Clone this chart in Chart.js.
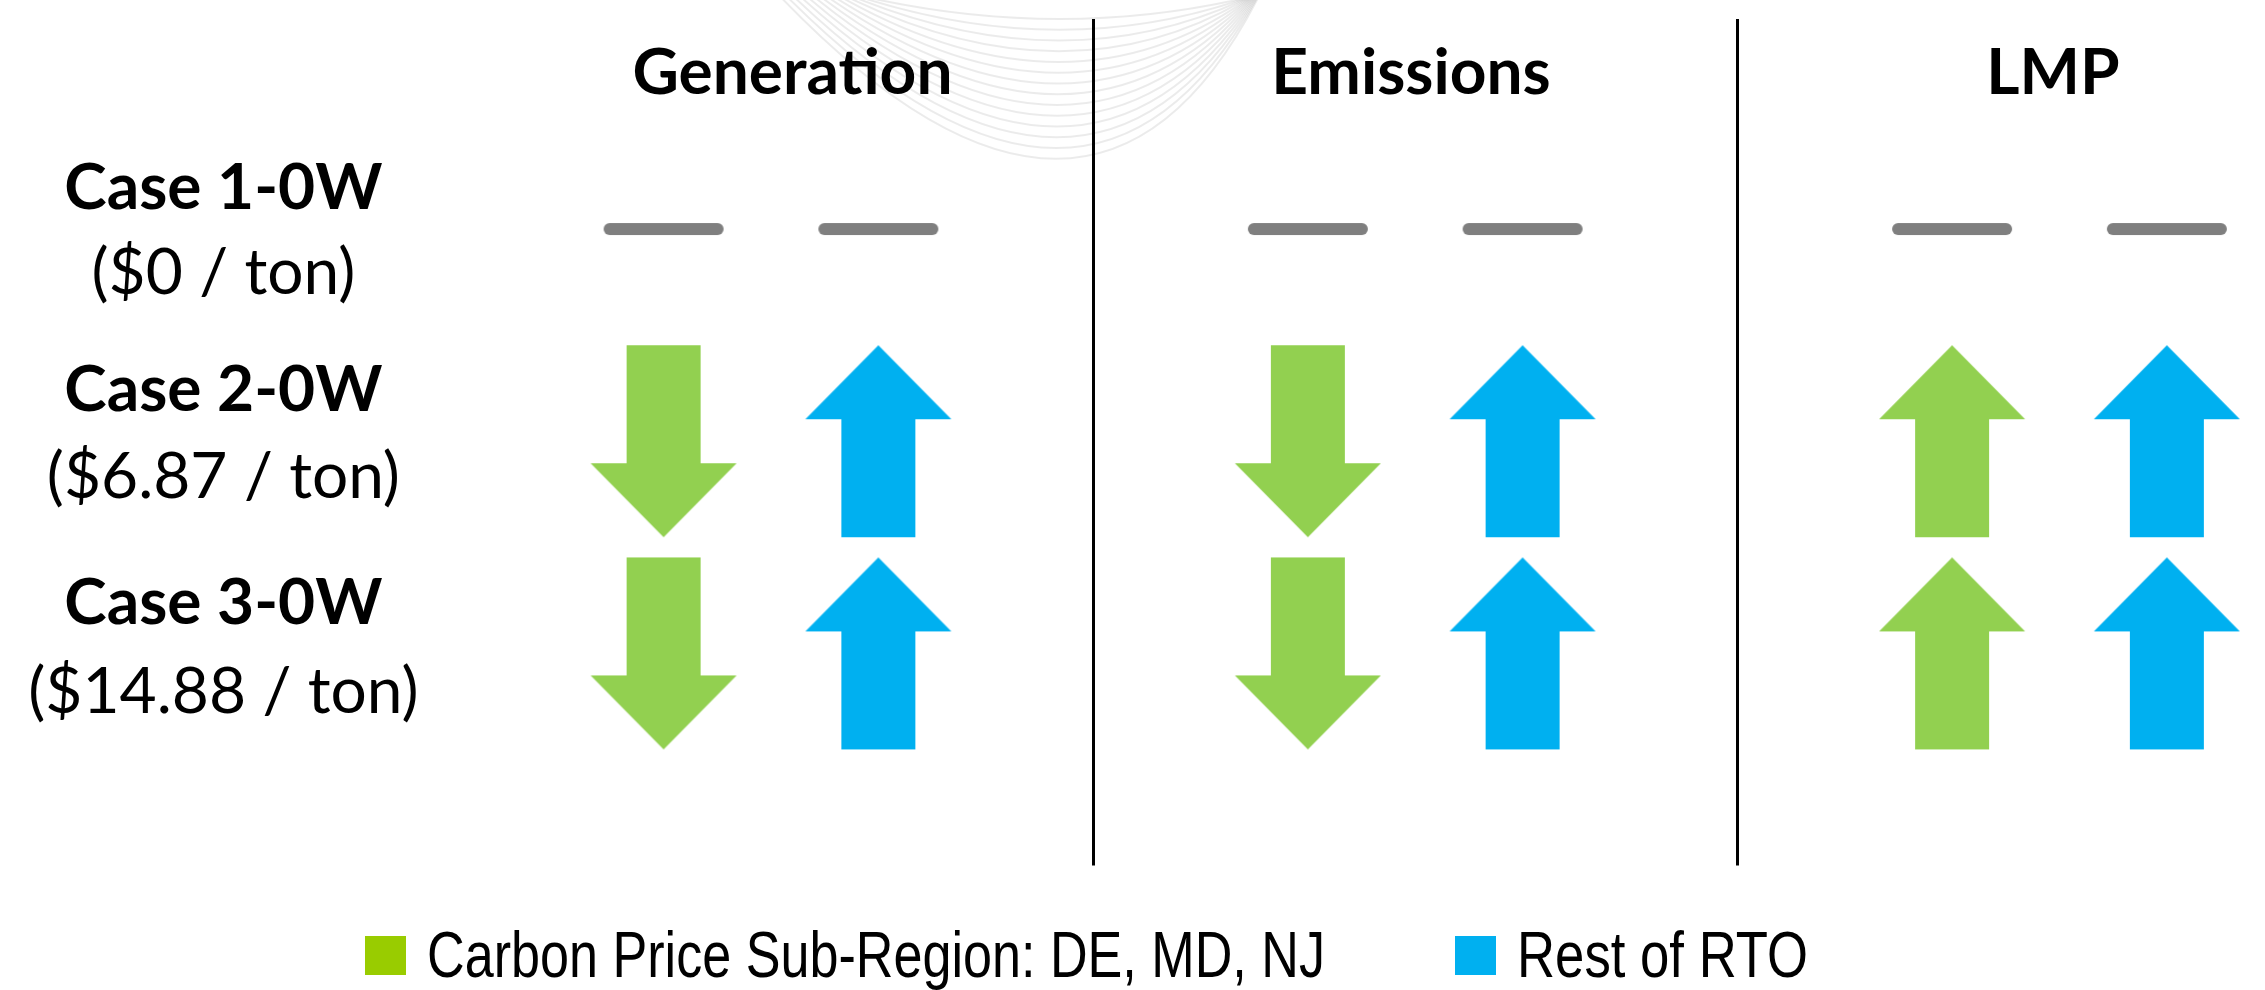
<!DOCTYPE html>
<html>
<head>
<meta charset="utf-8">
<script src="https://cdn.jsdelivr.net/npm/chart.js@4"></script>
<style>
  html, body { margin: 0; padding: 0; background: #fff; }
  #wrap { width: 2265px; height: 990px; }
</style>
</head>
<body>
<div id="wrap"><canvas id="grafico" width="2265" height="990"></canvas></div>
<script>
// datos: -1 baja, 0 sin cambio, 1 sube
var casos = ['Case 1-0W', 'Case 2-0W', 'Case 3-0W'];
var precios = ['($0 / ton)', '($6.87 / ton)', '($14.88 / ton)'];
var metricas = ['Generation', 'Emissions', 'LMP'];
var subRegion = [[0, 0, 0], [-1, -1, 1], [-1, -1, 1]];
var restoRTO = [[0, 0, 0], [1, 1, 1], [1, 1, 1]];
var series = ['Carbon Price Sub-Region: DE, MD, NJ', 'Rest of RTO'];

var verde = '#92D050', azul = '#00B0F0', gris = '#7F7F7F';
var verdeLeyenda = '#99CC00';

function flecha(color, dir) {
    var c = document.createElement('canvas');
    c.width = 148; c.height = 194;
    var g = c.getContext('2d');
    g.save();
    if (dir < 0) { g.translate(0, 194); g.scale(1, -1); }
    g.fillStyle = color;
    g.beginPath();
    g.moveTo(74, 1);
    g.lineTo(147, 75);
    g.lineTo(111, 75);
    g.lineTo(111, 193);
    g.lineTo(37, 193);
    g.lineTo(37, 75);
    g.lineTo(1, 75);
    g.closePath();
    g.fill();
    g.restore();
    return c;
}

function guion() {
    var c = document.createElement('canvas');
    c.width = 124; c.height = 16;
    var g = c.getContext('2d');
    g.strokeStyle = gris;
    g.lineWidth = 12;
    g.lineCap = 'round';
    g.beginPath();
    g.moveTo(8, 8);
    g.lineTo(116, 8);
    g.stroke();
    return c;
}

var iconos = {
    verde: { '-1': flecha(verde, -1), '0': guion(), '1': flecha(verde, 1) },
    azul: { '-1': flecha(azul, -1), '0': guion(), '1': flecha(azul, 1) }
};

function puntos(valores, region) {
    var out = [];
    valores.forEach(function(fila, i) {
        fila.forEach(function(v, m) {
            out.push({ x: 3 * m + region, y: i, v: v });
        });
    });
    return out;
}

var fondo = {
    id: 'fondo',
    beforeDatasetsDraw: function(chart) {
        var ctx = chart.ctx;
        var x = chart.scales.x, y = chart.scales.y;
        ctx.save();
        // curvas decorativas muy tenues (marca de agua)
        ctx.strokeStyle = 'rgba(0,0,0,0.08)';
        ctx.lineWidth = 2;
        for (var k = 0; k < 14; k++) {
            ctx.beginPath();
            ctx.moveTo(870 - k * 6.8, -2);
            ctx.quadraticCurveTo(1062 + k * 2.3, 40 + k * 21.5, 1245 + k, -2);
            ctx.stroke();
        }
        // separadores
        ctx.strokeStyle = '#000';
        ctx.lineWidth = 3;
        [2, 5].forEach(function(v) {
            var px = Math.round(x.getPixelForValue(v)) + 0.5;
            ctx.beginPath();
            ctx.moveTo(px, y.getPixelForValue(-0.99));
            ctx.lineTo(px, y.getPixelForValue(3.0));
            ctx.stroke();
        });
        ctx.restore();
    },
    afterDraw: function(chart) {
        var ctx = chart.ctx;
        var x = chart.scales.x, y = chart.scales.y;
        ctx.save();
        ctx.fillStyle = '#000';
        ctx.textAlign = 'center';
        ctx.textBaseline = 'alphabetic';
        // encabezados
        var posEnc = [0.6, 3.48, 6.47];
        ctx.font = 'bold 64px Lato';
        metricas.forEach(function(t, m) {
            ctx.fillText(t, x.getPixelForValue(posEnc[m]), y.getPixelForValue(0) - 135);
        });
        // etiquetas de casos
        var dyCaso = [-20, -30, -29], dyPrecio = [65, 57, 60];
        casos.forEach(function(t, i) {
            var cy = y.getPixelForValue(i);
            var cx = x.getPixelForValue(-2.05);
            ctx.font = 'bold 64px Lato';
            ctx.fillText(t, cx, cy + dyCaso[i]);
            ctx.font = '64px Lato';
            ctx.fillText(precios[i], cx, cy + dyPrecio[i]);
        });
        // leyenda (texto estrecho tipo Arial Narrow)
        var colores = [verdeLeyenda, azul];
        var inicio = [365, 1455];
        var anchos = [898, 291];
        ctx.textAlign = 'left';
        ctx.font = "64px 'Liberation Sans', Arial, sans-serif";
        series.forEach(function(t, s) {
            var sx = anchos[s] / ctx.measureText(t).width;
            ctx.fillStyle = colores[s];
            ctx.fillRect(inicio[s], 936, 41, 39);
            ctx.fillStyle = '#000';
            ctx.save();
            ctx.translate(inicio[s] + 62, 977);
            ctx.scale(sx, 1);
            ctx.fillText(t, 0, 0);
            ctx.restore();
        });
        ctx.restore();
    }
};

var config = {
    type: 'scatter',
    data: {
        datasets: [
            {
                label: series[0],
                data: puntos(subRegion, 0),
                backgroundColor: verde,
                pointStyle: function(c) { return iconos.verde[String(c.raw.v)]; },
                pointRadius: 10
            },
            {
                label: series[1],
                data: puntos(restoRTO, 1),
                backgroundColor: azul,
                pointStyle: function(c) { return iconos.azul[String(c.raw.v)]; },
                pointRadius: 10
            }
        ]
    },
    options: {
        responsive: false,
        animation: false,
        events: [],
        layout: { padding: 0 },
        plugins: { legend: { display: false }, tooltip: { enabled: false } },
        scales: {
            x: { type: 'linear', display: false, min: -3.039, max: 7.406 },
            y: { type: 'linear', display: false, reverse: true, min: -1.0276, max: 3.5346 }
        }
    },
    plugins: [fondo]
};

var grafico = new Chart(document.getElementById('grafico'), config);
</script>
</body>
</html>
